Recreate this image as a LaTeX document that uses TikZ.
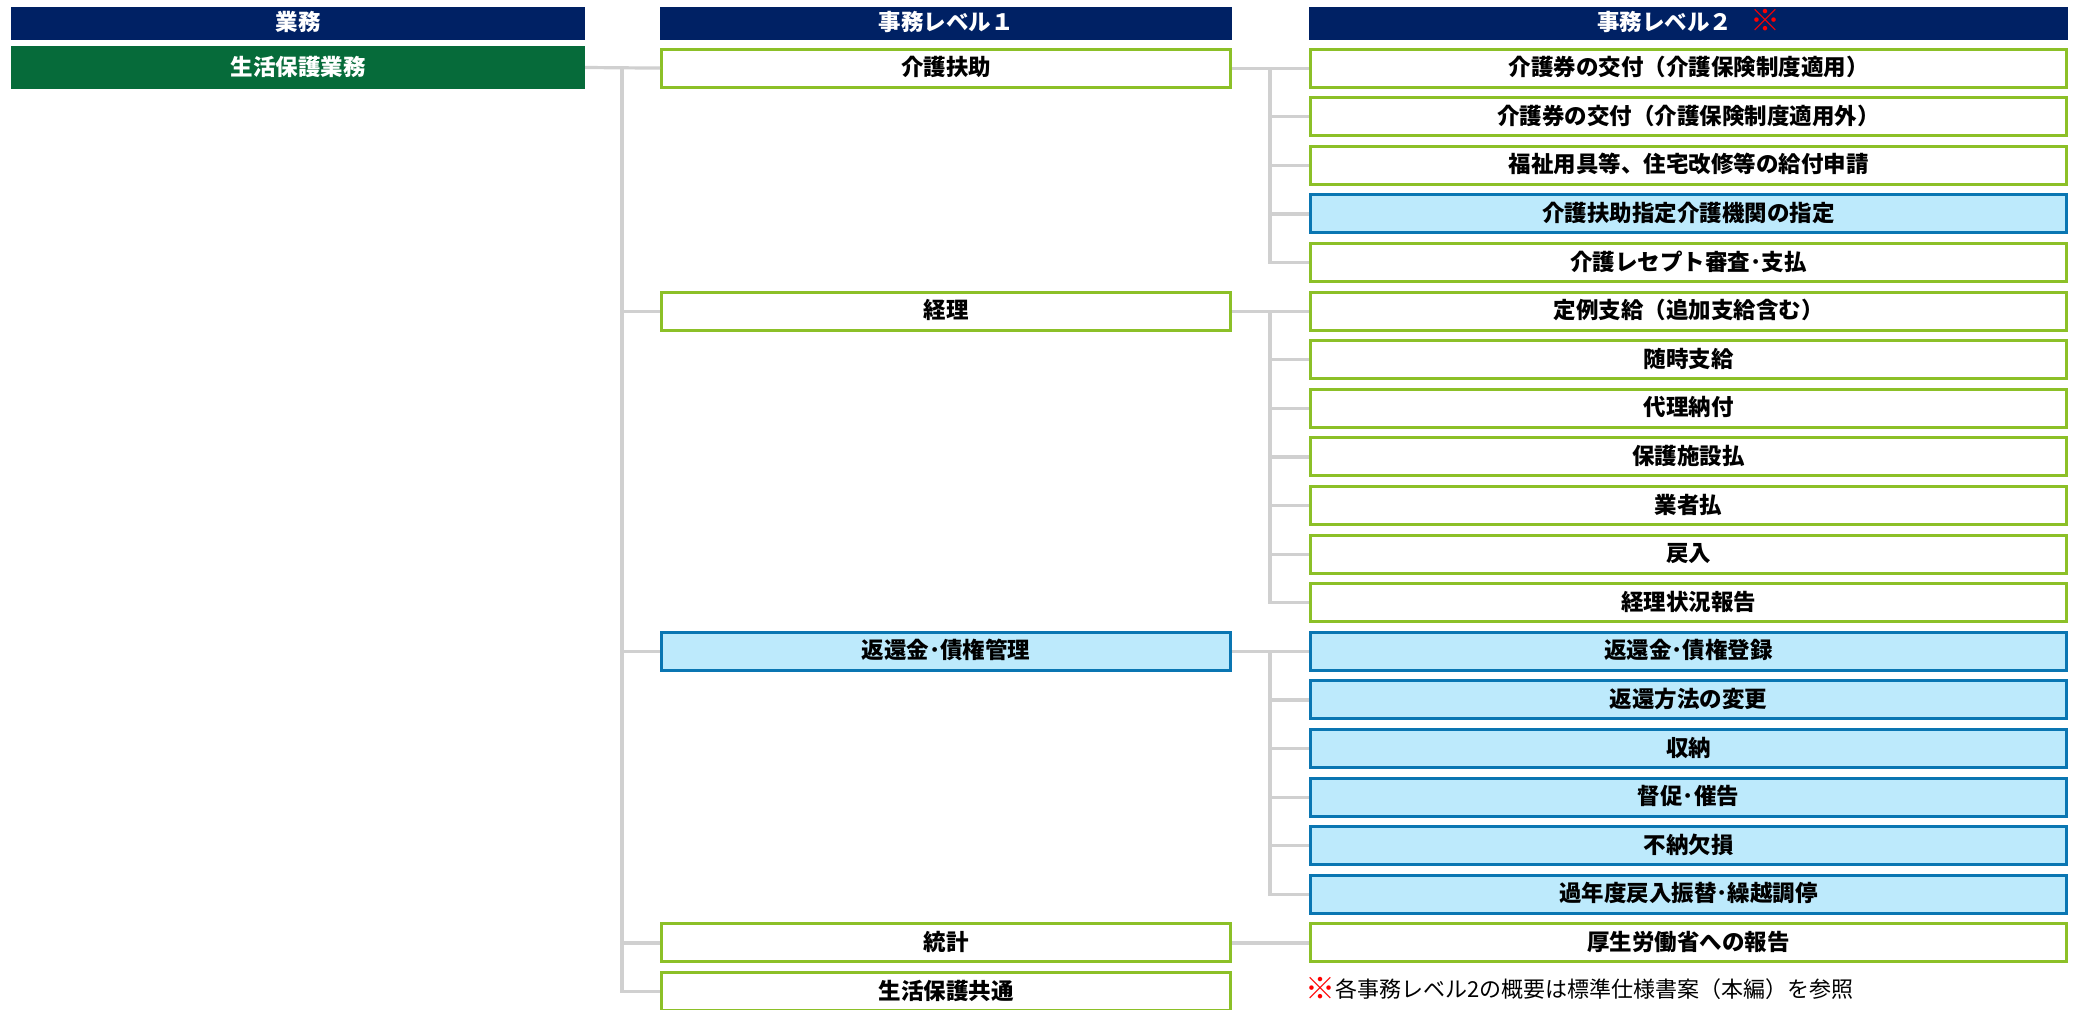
\documentclass[tikz,border=0pt]{standalone}
\usepackage{fontspec}
\setmainfont{Noto Sans CJK JP}
\definecolor{navy}{RGB}{0,33,100}
\definecolor{dgreen}{RGB}{6,107,58}
\definecolor{lgreen}{RGB}{140,192,40}
\definecolor{lblue}{RGB}{189,234,252}
\definecolor{bblue}{RGB}{10,118,178}
\definecolor{conngray}{RGB}{208,208,208}
\definecolor{redmark}{RGB}{255,0,0}
\newcommand{\komemark}{\textcolor{redmark}{\bfseries\fontsize{30}{30}\selectfont\raisebox{-1.5pt}{※}}}
\begin{document}
\begin{tikzpicture}[x=1pt,y=-1pt,
  txt/.style={font=\bfseries\fontsize{22.5}{24}\selectfont, text height=18pt, text depth=3pt, inner sep=0pt},
  hdr/.style={txt, fill=navy, text=white, minimum height=33pt},
  gbox/.style={txt, fill=dgreen, text=white, minimum height=43pt, minimum width=574pt},
  l1box/.style={txt, draw=lgreen, line width=3pt, fill=white, minimum height=38pt, minimum width=569pt},
  l1blue/.style={l1box, draw=bblue, fill=lblue},
  l2box/.style={txt, draw=lgreen, line width=3pt, fill=white, minimum height=38pt, minimum width=756pt},
  l2blue/.style={l2box, draw=bblue, fill=lblue},
  conn/.style={draw=conngray, line width=3.2pt}]
\clip (0,0) rectangle (2074,1009);
\useasboundingbox (0,0) rectangle (2074,1009);
% headers
\node[hdr, minimum width=574pt] (h1) at (298,23) {業務};
\node[hdr, minimum width=572pt] (h2) at (946,23) {事務レベル１};
\node[hdr, minimum width=759pt] (h3) at (1688.5,23) {事務レベル２\hspace{18pt}\komemark};
% business
\node[gbox] (g) at (298,67.5) {生活保護業務};
% level 1
\node[l1box] (a1) at (946,68.1) {介護扶助};
\node[l1box] (b1) at (946,311.1) {経理};
\node[l1blue] (c1) at (946,651.3) {返還金･債権管理};
\node[l1box] (d1) at (946,942.9) {統計};
\node[l1box] (e1) at (946,991.5) {生活保護共通};
% level 2
\node[l2box] (r0) at (1688.5,68.1) {介護券の交付（介護保険制度適用）};
\node[l2box] (r1) at (1688.5,116.7) {介護券の交付（介護保険制度適用外）};
\node[l2box] (r2) at (1688.5,165.3) {福祉用具等、住宅改修等の給付申請};
\node[l2blue] (r3) at (1688.5,213.9) {介護扶助指定介護機関の指定};
\node[l2box] (r4) at (1688.5,262.5) {介護レセプト審査･支払};
\node[l2box] (r5) at (1688.5,311.1) {定例支給（追加支給含む）};
\node[l2box] (r6) at (1688.5,359.7) {随時支給};
\node[l2box] (r7) at (1688.5,408.3) {代理納付};
\node[l2box] (r8) at (1688.5,456.9) {保護施設払};
\node[l2box] (r9) at (1688.5,505.5) {業者払};
\node[l2box] (r10) at (1688.5,554.1) {戻入};
\node[l2box] (r11) at (1688.5,602.7) {経理状況報告};
\node[l2blue] (r12) at (1688.5,651.3) {返還金･債権登録};
\node[l2blue] (r13) at (1688.5,699.9) {返還方法の変更};
\node[l2blue] (r14) at (1688.5,748.5) {収納};
\node[l2blue] (r15) at (1688.5,797.1) {督促･催告};
\node[l2blue] (r16) at (1688.5,845.7) {不納欠損};
\node[l2blue] (r17) at (1688.5,894.3) {過年度戻入振替･繰越調停};
\node[l2box] (r18) at (1688.5,942.9) {厚生労働省への報告};
% note
\node[anchor=west, inner sep=0pt, font=\fontsize{22}{24}\selectfont, text height=18pt, text depth=3pt] (note) at (1305,990) {\komemark 各事務レベル2の概要は標準仕様書案（本編）を参照};
% connectors level 0 -> level 1
\coordinate (t0) at (622,67.5);
\draw[conn] (g.east) -- (a1.west);
\draw[conn] (t0) |- (e1.west);
\foreach \n in {b1,c1,d1} \draw[conn] (t0 |- \n.west) -- (\n.west);
% connectors level 1 -> level 2
\coordinate (tA) at (1270,68.1);
\draw[conn] (a1.east) -- (r0.west);
\draw[conn] (tA) |- (r4.west);
\foreach \n in {r1,r2,r3} \draw[conn] (tA |- \n.west) -- (\n.west);
\coordinate (tB) at (1270,311.1);
\draw[conn] (b1.east) -- (r5.west);
\draw[conn] (tB) |- (r11.west);
\foreach \n in {r6,r7,r8,r9,r10} \draw[conn] (tB |- \n.west) -- (\n.west);
\coordinate (tC) at (1270,651.3);
\draw[conn] (c1.east) -- (r12.west);
\draw[conn] (tC) |- (r17.west);
\foreach \n in {r13,r14,r15,r16} \draw[conn] (tC |- \n.west) -- (\n.west);
\draw[conn] (d1.east) -- (r18.west);
\end{tikzpicture}
\end{document}
